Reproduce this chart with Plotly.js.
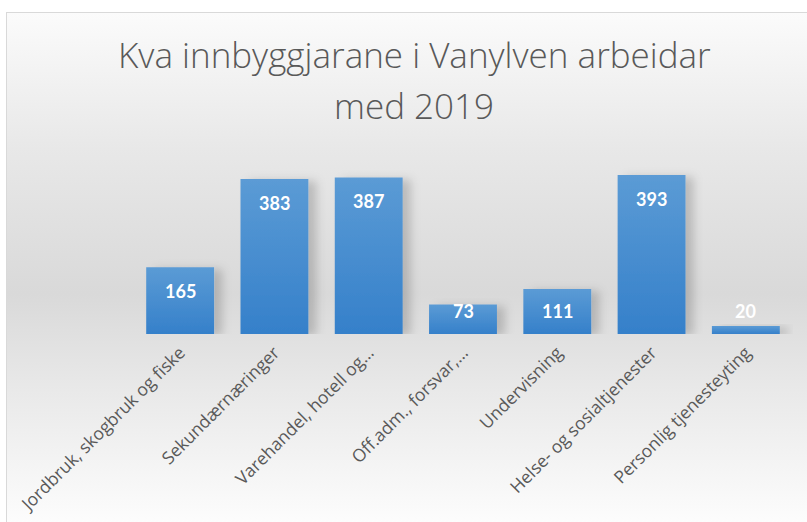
<!DOCTYPE html>
<html>
<head>
<meta charset="utf-8">
<script src="https://cdn.plot.ly/plotly-3.0.1.min.js"></script>
<style>
  html, body { margin:0; padding:0; width:807px; height:522px; overflow:hidden; background:#ffffff; }
  #frame { position:absolute; left:6px; top:12px; width:840px; height:540px; border:1px solid #d9d9d9;
    background: linear-gradient(to bottom, #fbfbfb 0%, #e8e8e8 25%, #d9d9d9 52%, #e9e9e9 70%, #fdfdfd 95%, #ffffff 100%); }
  #chart { position:absolute; left:0; top:0; width:807px; height:522px; }
</style>
</head>
<body>
<div id="frame"></div>
<div id="chart"></div>
<script>
const categories = [
  "Jordbruk, skogbruk og fiske",
  "Sekundærnæringer",
  "Varehandel, hotell og…",
  "Off.adm., forsvar,…",
  "Undervisning",
  "Helse- og sosialtjenester",
  "Personlig tjenesteyting"
];
const values = [165, 383, 387, 73, 111, 393, 20];
const titleLines = ["Kva innbyggjarane i Vanylven arbeidar", "med 2019"];

const W = 807, H = 522;
const margin = {l:133, r:14, t:152, b:188};
const yMax = 450;
const plotH = H - margin.t - margin.b;
const plotW = W - margin.l - margin.r;
const pxPerUnit = plotH / yMax;
const labelDrop = 24, labelFloor = 23; // px

const annotations = values.map((v, i) => ({
  x: categories[i],
  y: Math.max(v - labelDrop / pxPerUnit, labelFloor / pxPerUnit),
  xref: 'x', yref: 'y',
  text: String(v),
  showarrow: false,
  xanchor: 'center', yanchor: 'middle',
  font: {family: 'Lato, sans-serif', size: 18, color: '#ffffff', weight: 700}
}));

// title lines (Excel-like line spacing)
const titleCenterX = 414, titleLineY = [55, 105];
titleLines.forEach((t, i) => {
  annotations.push({
    xref: 'paper', yref: 'paper',
    x: (titleCenterX - margin.l) / plotW,
    y: (H - margin.b - titleLineY[i]) / plotH,
    xanchor: 'center', yanchor: 'middle',
    text: t, showarrow: false,
    font: {family: '"Open Sans", sans-serif', size: 35, color: '#595959', weight: 300}
  });
});

const trace = {
  type: 'bar',
  x: categories,
  y: values,
  marker: {color: '#4a8fd2', line: {width: 0}},
  hoverinfo: 'none'
};

const layout = {
  width: W, height: H,
  margin: margin,
  paper_bgcolor: 'rgba(0,0,0,0)',
  plot_bgcolor: 'rgba(0,0,0,0)',
  bargap: 0.28,
  showlegend: false,
  xaxis: {
    tickangle: -45,
    tickfont: {family: '"Open Sans", sans-serif', size: 17.5, color: '#595959'},
    ticklabelstandoff: 4,
    showline: false, ticks: '', showgrid: false, zeroline: false,
    automargin: false
  },
  yaxis: {
    range: [0, yMax], visible: false, showgrid: false, zeroline: false
  },
  annotations: annotations
};

Plotly.newPlot('chart', [trace], layout, {staticPlot: true, displayModeBar: false}).then(gd => {
  const svg = gd.querySelector('svg.main-svg');
  const ns = 'http://www.w3.org/2000/svg';
  const defs = document.createElementNS(ns, 'defs');
  const grad = document.createElementNS(ns, 'linearGradient');
  grad.setAttribute('id', 'barGrad');
  grad.setAttribute('x1', '0'); grad.setAttribute('y1', '0');
  grad.setAttribute('x2', '0'); grad.setAttribute('y2', '1');
  [['0%', '#5b9bd5'], ['100%', '#3580ca']].forEach(([o, c]) => {
    const s = document.createElementNS(ns, 'stop');
    s.setAttribute('offset', o); s.setAttribute('stop-color', c);
    grad.appendChild(s);
  });
  defs.appendChild(grad);
  const filt = document.createElementNS(ns, 'filter');
  filt.setAttribute('id', 'barShadow');
  filt.setAttribute('x', '-20%'); filt.setAttribute('y', '-20%');
  filt.setAttribute('width', '160%'); filt.setAttribute('height', '140%');
  const ds = document.createElementNS(ns, 'feDropShadow');
  ds.setAttribute('dx', '8'); ds.setAttribute('dy', '2');
  ds.setAttribute('stdDeviation', '5');
  ds.setAttribute('flood-color', '#000'); ds.setAttribute('flood-opacity', '0.18');
  filt.appendChild(ds);
  defs.appendChild(filt);
  svg.insertBefore(defs, svg.firstChild);
  gd.querySelectorAll('.bars .point path').forEach(p => {
    p.style.fill = 'url(#barGrad)';
    p.style.filter = 'url(#barShadow)';
  });
});
</script>
</body>
</html>
